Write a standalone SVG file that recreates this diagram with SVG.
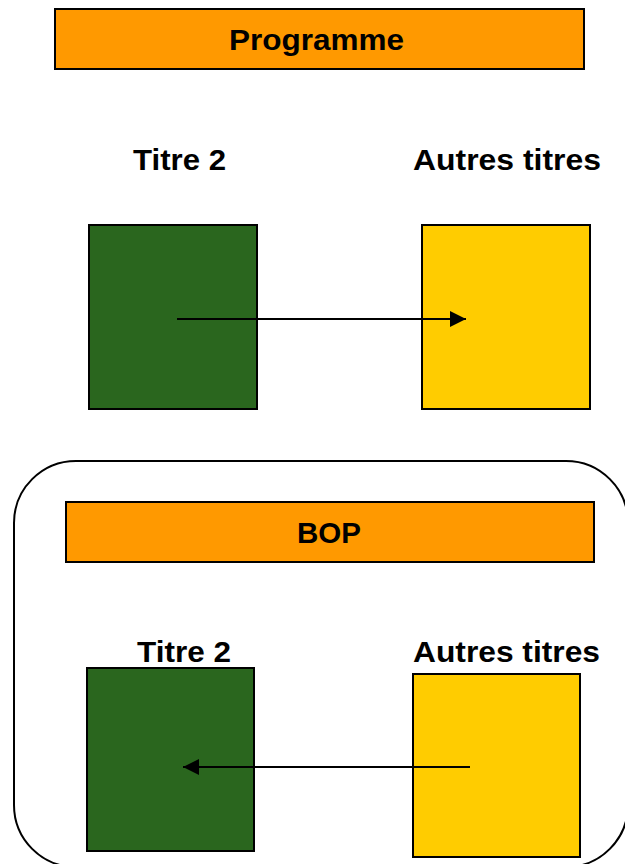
<svg xmlns="http://www.w3.org/2000/svg" width="625" height="864" viewBox="0 0 625 864">
<defs>
<style>
.hdr{fill:#ff9900;stroke:#000;stroke-width:2}
.grn{fill:#2a661e;stroke:#000;stroke-width:2}
.yel{fill:#ffcc00;stroke:#000;stroke-width:2}
.t{font-family:"Liberation Sans",Arial,sans-serif;font-weight:bold;font-size:30px;fill:#000}
.c{stroke:#000;stroke-width:2;fill:none}
</style>
<marker id="ah2" viewBox="0 0 10 10" refX="10" refY="5" markerWidth="16" markerHeight="16" markerUnits="userSpaceOnUse" orient="auto">
<path d="M0,0 L10,5 L0,10 z" fill="#000"/>
</marker>
</defs>
<rect width="625" height="864" fill="#fff"/>
<g id="bop-frame"><rect x="14" y="461" width="614" height="406" rx="62" ry="62" fill="none" stroke="#000" stroke-width="2"/></g>
<g id="programme"><rect class="hdr" x="55" y="9" width="529" height="60"/><text class="t" x="229" y="50" textLength="175" lengthAdjust="spacingAndGlyphs">Programme</text></g>
<g id="titre2-top"><text class="t" x="133" y="170" textLength="93" lengthAdjust="spacingAndGlyphs">Titre 2</text><rect class="grn" x="89" y="225" width="168" height="184"/></g>
<g id="autres-top"><text class="t" x="413" y="170" textLength="188" lengthAdjust="spacingAndGlyphs">Autres titres</text><rect class="yel" x="422" y="225" width="168" height="184"/></g>
<g id="bop"><rect class="hdr" x="66" y="502" width="528" height="60"/><text class="t" x="297" y="543" textLength="64" lengthAdjust="spacingAndGlyphs">BOP</text></g>
<g id="titre2-bottom"><text class="t" x="137" y="662" textLength="94" lengthAdjust="spacingAndGlyphs">Titre 2</text><rect class="grn" x="87" y="668" width="167" height="183"/></g>
<g id="autres-bottom"><text class="t" x="413" y="662" textLength="187" lengthAdjust="spacingAndGlyphs">Autres titres</text><rect class="yel" x="413" y="674" width="167" height="183"/></g>
<g id="connectors">
<line class="c" x1="177" y1="319" x2="466" y2="319" marker-end="url(#ah2)"/>
<line class="c" x1="470" y1="767" x2="183" y2="767" marker-end="url(#ah2)"/>
</g>
</svg>
